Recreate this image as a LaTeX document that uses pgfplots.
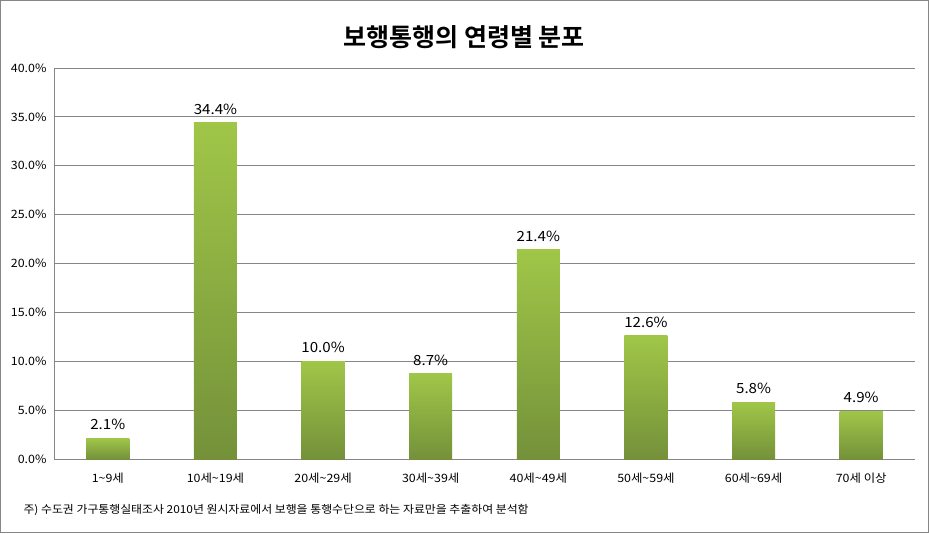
\documentclass[border=0pt]{standalone}
\usepackage{pgfplots}
\pgfplotsset{compat=1.18}
\usepackage{fontspec}
\setmainfont{Noto Sans CJK KR}
\newfontfamily\titlefont{Noto Sans CJK KR Bold}
\newfontfamily\widefont[FakeStretch=1.08]{Noto Sans CJK KR}
\definecolor{bartop}{RGB}{160,198,72}
\definecolor{barbot}{RGB}{116,145,58}
\definecolor{gridc}{RGB}{134,134,134}
\begin{document}
\begin{tikzpicture}[x=1pt,y=1pt]
\draw[gridc, line width=1pt] (0.5,0.5) rectangle (928.5,532.5);
\node[font=\titlefont\fontsize{25}{29}\selectfont] at (464,496) {보행통행의 연령별 분포};
\node[anchor=west, font=\widefont\fontsize{11}{13}\selectfont] at (20,23) {주) 수도권 가구통행실태조사 2010년 원시자료에서 보행을 통행수단으로 하는 자료만을 추출하여 분석함};
\begin{axis}[
  at={(54pt,74pt)}, anchor=south west,
  scale only axis, width=861pt, height=391pt,
  xmin=-0.5, xmax=7.5, ymin=0, ymax=40,
  axis x line=bottom, axis y line=left,
  axis line style={gridc, -}, 
  xtick={0,...,7},
  xticklabels={1\textasciitilde 9세,10세\textasciitilde 19세,20세\textasciitilde 29세,30세\textasciitilde 39세,40세\textasciitilde 49세,50세\textasciitilde 59세,60세\textasciitilde 69세,70세 이상},
  ytick={0,5,...,40},
  yticklabel={\pgfmathprintnumber[fixed,fixed zerofill,precision=1]{\tick}\%},
  /pgf/number format/assume math mode=true,
  ymajorgrids, grid style={gridc, line width=0.8pt},
  major tick length=0pt,
  tick label style={font=\widefont\fontsize{11.5}{13}\selectfont},
  xticklabel style={yshift=-10pt},
  yticklabel style={xshift=-4pt},
  ybar, bar width=0.4, bar shift=0pt,
  nodes near coords={\pgfmathprintnumber[fixed,fixed zerofill,precision=1]{\pgfplotspointmeta}\%},
  every node near coord/.append style={font=\widefont\fontsize{14}{16}\selectfont, yshift=5pt, text=black},
  clip=false,
  every axis plot/.append style={draw=none, top color=bartop, bottom color=barbot},
]
\addplot coordinates {(0,2.1)};
\addplot coordinates {(1,34.4)};
\addplot coordinates {(2,10.0)};
\addplot coordinates {(3,8.7)};
\addplot coordinates {(4,21.4)};
\addplot coordinates {(5,12.6)};
\addplot coordinates {(6,5.8)};
\addplot coordinates {(7,4.9)};
\end{axis}
\end{tikzpicture}
\end{document}
